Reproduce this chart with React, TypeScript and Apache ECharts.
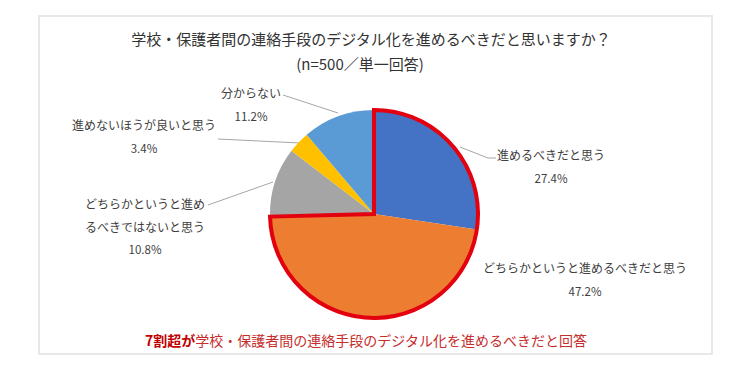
import React, { useEffect, useRef } from "react";
import * as echarts from "echarts";

const titleLine1 = "学校・保護者間の連絡手段のデジタル化を進めるべきだと思いますか？";
const titleLine2 = "(n=500／単一回答)";
const footBold = "7割超が";
const footRest = "学校・保護者間の連絡手段のデジタル化を進めるべきだと回答";

const categories = [
  "進めるべきだと思う",
  "どちらかというと進めるべきだと思う",
  "どちらかというと進めるべきではないと思う",
  "進めないほうが良いと思う",
  "分からない",
];
const displayNames = [
  "進めるべきだと思う",
  "どちらかというと進めるべきだと思う",
  "どちらかというと進め\nるべきではないと思う",
  "進めないほうが良いと思う",
  "分からない",
];
const values = [27.4, 47.2, 10.8, 3.4, 11.2];
const colors = ["#4472C4", "#ED7D31", "#A5A5A5", "#FFC000", "#5B9BD5"];
const highlightCount = 2; // first two categories outlined in red

// label placement (layout only)
const labelLayouts = [
  { x: 551, y: 166, line: [[460, 147], [488, 158], [496, 158]] },
  { x: 585, y: 279, line: null },
  { x: 145, y: 226, line: [[273, 182], [208, 205]] },
  { x: 144, y: 136, line: [[300, 143], [218, 139]] },
  { x: 251, y: 104, line: [[338, 113], [283, 95]] },
];

const FONT = '"Noto Sans CJK JP", "Noto Sans", sans-serif';

export default function App() {
  const ref = useRef<HTMLDivElement>(null);
  useEffect(() => {
    if (!ref.current) return;
    const chart = echarts.init(ref.current, undefined, { renderer: "svg" });
    const total = values.reduce((a, b) => a + b, 0);
    const hi = values.slice(0, highlightCount).reduce((a, b) => a + b, 0);
    const center = [374, 214];
    const radius = 104;
    chart.setOption({
      animation: false,
      backgroundColor: "#ffffff",
      textStyle: { fontFamily: FONT },
      title: [
        {
          text: titleLine1,
          left: 371,
          top: 28,
          textAlign: "center",
          padding: 0,
          textStyle: { fontSize: 15, fontWeight: "normal", color: "#333333", lineHeight: 20, fontFamily: FONT },
        },
        {
          text: titleLine2,
          left: 360,
          top: 53,
          textAlign: "center",
          padding: 0,
          textStyle: { fontSize: 15, fontWeight: "normal", color: "#333333", lineHeight: 20, fontFamily: FONT },
        },
        {
          text: `{b|${footBold}}{r|${footRest}}`,
          left: 366,
          top: 330,
          textAlign: "center",
          padding: 0,
          textStyle: {
            fontFamily: FONT,
            rich: {
              b: { fontSize: 14, fontWeight: "bold", color: "#C00000", lineHeight: 20, fontFamily: FONT },
              r: { fontSize: 14, fontWeight: "normal", color: "#C62D2D", lineHeight: 20, fontFamily: FONT },
            },
          },
        },
      ],
      graphic: [
        {
          type: "rect",
          shape: { x: 39, y: 16, width: 673, height: 338 },
          style: { fill: "none", stroke: "#E8E8E8", lineWidth: 2 },
          silent: true,
          z: -10,
        },
      ],
      series: [
        {
          type: "pie",
          center,
          radius,
          startAngle: 90,
          clockwise: true,
          avoidLabelOverlap: false,
          itemStyle: { borderWidth: 0 },
          label: {
            show: true,
            position: "outside",
            fontFamily: FONT,
            formatter: (p: any) => {
              const lines = displayNames[p.dataIndex].split("\n").map((l) => `{n|${l}}`);
              lines.push(`{p|${values[p.dataIndex].toFixed(1)}%}`);
              return lines.join("\n");
            },
            rich: {
              n: { fontSize: 12, lineHeight: 23, color: "#404040", fontFamily: FONT },
              p: { fontSize: 11.5, lineHeight: 23, color: "#404040", fontFamily: FONT },
            },
          },
          labelLine: { show: true, lineStyle: { color: "#A6A6A6", width: 1 } },
          labelLayout: (params: any) => {
            const l = labelLayouts[params.dataIndex];
            const res: any = { x: l.x, y: l.y, align: "center", verticalAlign: "middle" };
            if (l.line) res.labelLinePoints = l.line;
            return res;
          },
          data: categories.map((name, i) => ({
            name,
            value: values[i],
            itemStyle: { color: colors[i] },
            labelLine: labelLayouts[i].line ? undefined : { show: false },
          })),
          silent: true,
          z: 2,
        },
        {
          type: "pie",
          center,
          radius,
          startAngle: 90,
          clockwise: true,
          silent: true,
          label: { show: false },
          labelLine: { show: false },
          data: [
            {
              name: "hi",
              value: hi,
              itemStyle: { color: "rgba(0,0,0,0)", borderColor: "#E3000F", borderWidth: 4, borderJoin: "miter" },
            },
            {
              name: "rest",
              value: total - hi,
              itemStyle: { color: "rgba(0,0,0,0)", borderWidth: 0 },
            },
          ],
          z: 3,
        },
      ],
    });
    return () => chart.dispose();
  }, []);
  return (
    <div
      ref={ref}
      style={{ position: "absolute", left: 0, top: 0, width: 750, height: 375 }}
    />
  );
}
